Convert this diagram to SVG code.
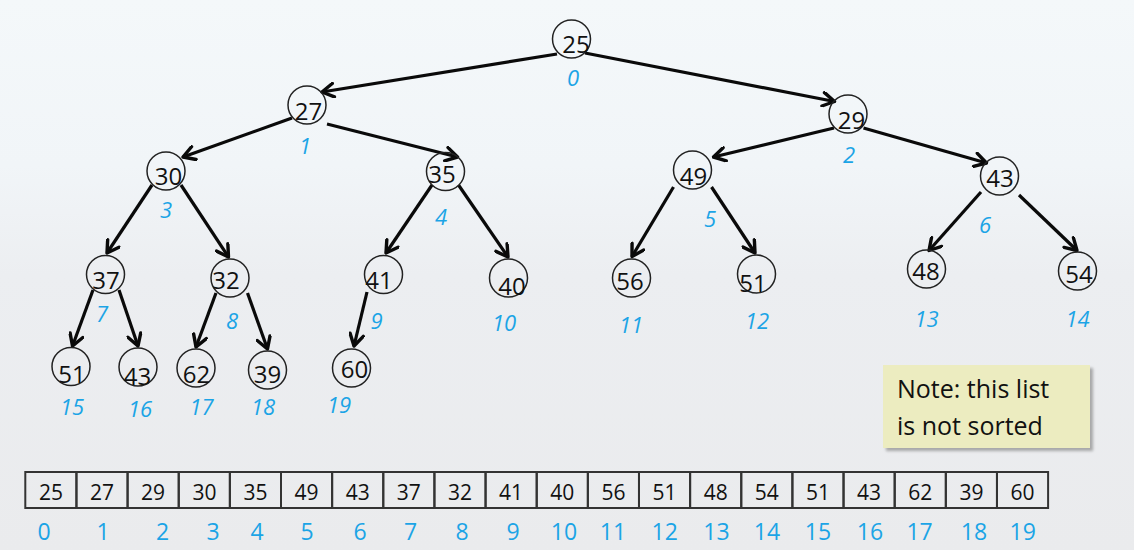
<svg xmlns="http://www.w3.org/2000/svg" width="1134" height="550" viewBox="0 0 1134 550">
<defs>
<linearGradient id="bg" x1="0" y1="0" x2="0" y2="1">
<stop offset="0" stop-color="#f4f8fa"/>
<stop offset="0.3" stop-color="#f1f5f8"/>
<stop offset="0.5" stop-color="#eceef1"/>
<stop offset="1" stop-color="#eaebed"/>
</linearGradient>
<marker id="arr" viewBox="0 0 16 16" refX="14" refY="8" markerWidth="16" markerHeight="16" markerUnits="userSpaceOnUse" orient="auto">
<path d="M2.5,1.2 L14,8 L2.5,14.8" fill="none" stroke="#0a0a0a" stroke-width="3.4" stroke-linecap="round" stroke-linejoin="round"/>
</marker>
<filter id="sh" x="-10%" y="-10%" width="130%" height="130%">
<feGaussianBlur stdDeviation="1.5"/>
</filter>
</defs>
<style>
.n circle{fill:none;stroke:#222;stroke-width:1.5}
.v{font-family:"Open Sans","DejaVu Sans",sans-serif;font-size:24px;fill:#111;text-anchor:middle}
.i{font-family:"Open Sans","DejaVu Sans",sans-serif;font-size:22px;font-style:italic;fill:#1ba4e6;text-anchor:middle}
.c{fill:none;stroke:#0a0a0a;stroke-width:3.2;marker-end:url(#arr)}
.cell{fill:none;stroke:#333;stroke-width:2}
.av{font-family:"Open Sans","DejaVu Sans",sans-serif;font-size:21px;fill:#111;text-anchor:middle}
.ai{font-family:"Open Sans","DejaVu Sans",sans-serif;font-size:23px;fill:#1ba4e6;text-anchor:middle}
.note{font-family:"Open Sans","DejaVu Sans",sans-serif;font-size:25px;fill:#111}
</style>
<rect x="0" y="0" width="1134" height="550" fill="url(#bg)"/>

<g id="connectors">
<line class="c" x1="557" y1="54" x2="322" y2="92"/>
<line class="c" x1="585" y1="53" x2="834.5" y2="101.5"/>
<line class="c" x1="292" y1="118" x2="183" y2="157"/>
<line class="c" x1="327" y1="124" x2="457.5" y2="157"/>
<line class="c" x1="834" y1="128" x2="713.5" y2="157"/>
<line class="c" x1="863.5" y1="128" x2="986.5" y2="163"/>
<line class="c" x1="152" y1="185" x2="107" y2="253"/>
<line class="c" x1="181" y1="185" x2="228.5" y2="257"/>
<line class="c" x1="432" y1="185" x2="386" y2="253"/>
<line class="c" x1="458.5" y1="185" x2="508" y2="257"/>
<line class="c" x1="673.5" y1="187" x2="632" y2="256.5"/>
<line class="c" x1="711.5" y1="187" x2="755" y2="253"/>
<line class="c" x1="981" y1="192" x2="929" y2="250.5"/>
<line class="c" x1="1019" y1="195" x2="1077" y2="250.5"/>
<line class="c" x1="93" y1="290" x2="72.5" y2="346"/>
<line class="c" x1="119" y1="290" x2="138" y2="346"/>
<line class="c" x1="216" y1="293" x2="196" y2="347"/>
<line class="c" x1="247.5" y1="293" x2="267.5" y2="349"/>
<line class="c" x1="367" y1="292" x2="354" y2="346"/>
</g>

<g id="node0" class="n"><circle cx="571.5" cy="39" r="19"/><text class="v" x="576" y="53">25</text><text class="i" x="573" y="86">0</text></g>
<g id="node1" class="n"><circle cx="307" cy="105" r="19"/><text class="v" x="308.5" y="120">27</text><text class="i" x="305" y="154">1</text></g>
<g id="node2" class="n"><circle cx="848" cy="114" r="19"/><text class="v" x="851.5" y="129">29</text><text class="i" x="849" y="162.5">2</text></g>
<g id="node3" class="n"><circle cx="166" cy="171" r="19"/><text class="v" x="168.5" y="185">30</text><text class="i" x="166" y="218">3</text></g>
<g id="node4" class="n"><circle cx="445.5" cy="171.5" r="19"/><text class="v" x="442" y="182.5">35</text><text class="i" x="441" y="225">4</text></g>
<g id="node5" class="n"><circle cx="692.5" cy="170" r="19"/><text class="v" x="693.5" y="185">49</text><text class="i" x="710" y="227">5</text></g>
<g id="node6" class="n"><circle cx="999.5" cy="176" r="19"/><text class="v" x="1000" y="187">43</text><text class="i" x="985" y="232.5">6</text></g>
<g id="node7" class="n"><circle cx="105.5" cy="274.5" r="19"/><text class="v" x="106" y="289">37</text><text class="i" x="102" y="321.5">7</text></g>
<g id="node8" class="n"><circle cx="230" cy="278" r="19"/><text class="v" x="226" y="289">32</text><text class="i" x="232" y="329">8</text></g>
<g id="node9" class="n"><circle cx="383.5" cy="274.5" r="19"/><text class="v" x="379" y="289">41</text><text class="i" x="376.5" y="329">9</text></g>
<g id="node10" class="n"><circle cx="508.5" cy="278" r="19"/><text class="v" x="512" y="295">40</text><text class="i" x="504" y="330.5">10</text></g>
<g id="node11" class="n"><circle cx="631.5" cy="278" r="19"/><text class="v" x="630" y="290">56</text><text class="i" x="631" y="332.5">11</text></g>
<g id="node12" class="n"><circle cx="756.5" cy="274" r="19"/><text class="v" x="753" y="291.5">51</text><text class="i" x="757" y="329">12</text></g>
<g id="node13" class="n"><circle cx="926.5" cy="269" r="19"/><text class="v" x="926" y="279.5">48</text><text class="i" x="926.5" y="326.5">13</text></g>
<g id="node14" class="n"><circle cx="1077.5" cy="271" r="19"/><text class="v" x="1079" y="283">54</text><text class="i" x="1077.5" y="326.5">14</text></g>
<g id="node15" class="n"><circle cx="71" cy="366.5" r="19"/><text class="v" x="72" y="382.5">51</text><text class="i" x="72" y="415">15</text></g>
<g id="node16" class="n"><circle cx="138" cy="367" r="19"/><text class="v" x="137.5" y="385">43</text><text class="i" x="140" y="416.5">16</text></g>
<g id="node17" class="n"><circle cx="196" cy="368" r="19"/><text class="v" x="196.5" y="383">62</text><text class="i" x="201.5" y="415">17</text></g>
<g id="node18" class="n"><circle cx="267.5" cy="370" r="19"/><text class="v" x="267.5" y="382.5">39</text><text class="i" x="263" y="415">18</text></g>
<g id="node19" class="n"><circle cx="351.5" cy="368" r="19"/><text class="v" x="354.5" y="378">60</text><text class="i" x="339" y="413">19</text></g>

<g id="note">
<rect x="886" y="368" width="207" height="83" fill="#8a8a8a" opacity="0.7" filter="url(#sh)"/>
<rect x="883" y="365" width="207" height="83" fill="#ececc0"/>
<text class="note" x="897" y="398">Note: this list</text>
<text class="note" x="897" y="435">is not sorted</text>
</g>

<g id="array">
<rect class="cell" x="25.3" y="472" width="51.14" height="36"/>
<rect class="cell" x="76.44" y="472" width="51.14" height="36"/>
<rect class="cell" x="127.58" y="472" width="51.14" height="36"/>
<rect class="cell" x="178.72" y="472" width="51.14" height="36"/>
<rect class="cell" x="229.86" y="472" width="51.14" height="36"/>
<rect class="cell" x="281" y="472" width="51.14" height="36"/>
<rect class="cell" x="332.14" y="472" width="51.14" height="36"/>
<rect class="cell" x="383.28" y="472" width="51.14" height="36"/>
<rect class="cell" x="434.42" y="472" width="51.14" height="36"/>
<rect class="cell" x="485.56" y="472" width="51.14" height="36"/>
<rect class="cell" x="536.7" y="472" width="51.14" height="36"/>
<rect class="cell" x="587.84" y="472" width="51.14" height="36"/>
<rect class="cell" x="638.98" y="472" width="51.14" height="36"/>
<rect class="cell" x="690.12" y="472" width="51.14" height="36"/>
<rect class="cell" x="741.26" y="472" width="51.14" height="36"/>
<rect class="cell" x="792.4" y="472" width="51.14" height="36"/>
<rect class="cell" x="843.54" y="472" width="51.14" height="36"/>
<rect class="cell" x="894.68" y="472" width="51.14" height="36"/>
<rect class="cell" x="945.82" y="472" width="51.14" height="36"/>
<rect class="cell" x="996.96" y="472" width="51.14" height="36"/>
<text class="av" x="51" y="500">25</text>
<text class="av" x="102" y="500">27</text>
<text class="av" x="153" y="500">29</text>
<text class="av" x="204.5" y="500">30</text>
<text class="av" x="255.5" y="500">35</text>
<text class="av" x="306.5" y="500">49</text>
<text class="av" x="357.7" y="500">43</text>
<text class="av" x="408.8" y="500">37</text>
<text class="av" x="460" y="500">32</text>
<text class="av" x="511" y="500">41</text>
<text class="av" x="562.3" y="500">40</text>
<text class="av" x="613.4" y="500">56</text>
<text class="av" x="664.5" y="500">51</text>
<text class="av" x="715.7" y="500">48</text>
<text class="av" x="766.8" y="500">54</text>
<text class="av" x="818" y="500">51</text>
<text class="av" x="869.1" y="500">43</text>
<text class="av" x="920.2" y="500">62</text>
<text class="av" x="971.4" y="500">39</text>
<text class="av" x="1022.5" y="500">60</text>
<text class="ai" x="44" y="540">0</text>
<text class="ai" x="103" y="540">1</text>
<text class="ai" x="162.5" y="540">2</text>
<text class="ai" x="213" y="540">3</text>
<text class="ai" x="257" y="540">4</text>
<text class="ai" x="307" y="540">5</text>
<text class="ai" x="360" y="540">6</text>
<text class="ai" x="410.5" y="540">7</text>
<text class="ai" x="462" y="540">8</text>
<text class="ai" x="513" y="540">9</text>
<text class="ai" x="564" y="540">10</text>
<text class="ai" x="613" y="540">11</text>
<text class="ai" x="664.7" y="540">12</text>
<text class="ai" x="716.4" y="540">13</text>
<text class="ai" x="767" y="540">14</text>
<text class="ai" x="818" y="540">15</text>
<text class="ai" x="870" y="540">16</text>
<text class="ai" x="919.6" y="540">17</text>
<text class="ai" x="974" y="540">18</text>
<text class="ai" x="1022.7" y="540">19</text>
</g>
</svg>
